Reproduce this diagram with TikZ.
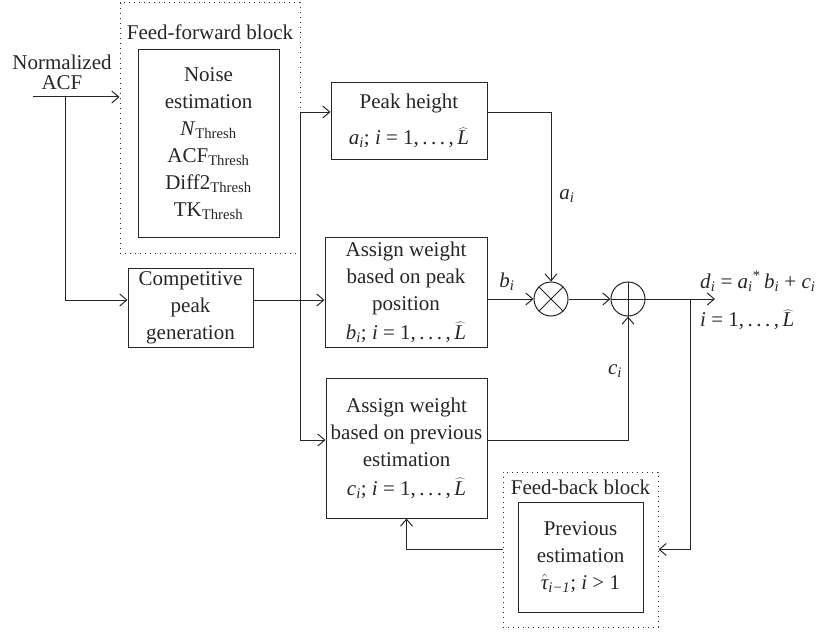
\documentclass[tikz,border=0pt]{standalone}
\usepackage{fontspec}
\setmainfont{Liberation Serif}
\usetikzlibrary{arrows.meta}
\newcommand\mv[1]{\textit{#1}}
\newcommand\sbi[1]{\textsubscript{\textit{#1}}}
\newcommand\Lhat{\raisebox{0pt}[0.72em][0pt]{$\widehat{\mbox{\itshape L}}$}}
\newcommand\dotsx{.\kern3.5pt.\kern3.5pt.}
\newcommand\range{\mv{i} = 1,\,\dotsx\,,\,\Lhat}
\begin{document}
\begin{tikzpicture}[x=1pt,y=-1pt,color=black!85,
  txt/.style={inner sep=0pt, font=\fontsize{21}{27}\selectfont},
  box/.style={draw, line width=1pt, align=center, inner sep=0pt, font=\fontsize{21}{27}\selectfont},
  dotbox/.style={draw, line width=1pt, dash pattern=on 1pt off 4pt, inner sep=0pt},
  conn/.style={line width=1pt},
  arr/.style={conn, -{Straight Barb[length=7pt,width=12pt]}},
  op/.style={circle, draw, line width=1pt, minimum size=34pt, inner sep=0pt}]
\useasboundingbox (0,0) rectangle (825,634);

% feed-forward block
\node[dotbox, minimum width=180pt, minimum height=250pt] (ff) at (210,128) {};
\node[txt] (fflab) at (210,32) {Feed-forward block};
\node[box, minimum width=141pt, minimum height=187pt] (noise) at (208.5,143.5)
  {Noise\\estimation\\\mv{N}\textsubscript{Thresh}\\ACF\textsubscript{Thresh}\\Diff2\textsubscript{Thresh}\\TK\textsubscript{Thresh}};

% input
\node[txt, align=center, font=\fontsize{21}{20}\selectfont] (inlab) at (62,72) {Normalized\\ACF};
\coordinate (in0) at (33,97);
\coordinate (j1) at (65,97);
\coordinate (c1) at (65,300);
\draw[arr] (in0) -- (in0 -| ff.west);

% competitive peak generation
\node[box, minimum width=125pt, minimum height=79pt] (comp) at (190.5,307.5) {Competitive\\peak\\generation};
\draw[arr] (j1) -- (c1) -- (c1 -| comp.west);

% right-hand boxes
\node[box, minimum width=156pt, minimum height=77pt] (ph) at (409,121)
  {Peak height\\[9pt]\mv{a}\sbi{i}; \range};
\node[box, minimum width=162pt, minimum height=110pt] (pp) at (406,292)
  {Assign weight\\based on peak\\position\\[2pt]\mv{b}\sbi{i}; \range};
\node[box, minimum width=161pt, minimum height=140pt] (prev) at (406.5,448)
  {Assign weight\\based on previous\\estimation\\[2pt]\mv{c}\sbi{i}; \range};

% bus
\coordinate (b1) at (300,112);
\coordinate (b2) at (300,300);
\coordinate (b3) at (300,440);
\draw[conn] (b1) -- (b3);
\draw[arr] (b1) -- (b1 -| ph.west);
\draw[arr] (b3) -- (b3 -| prev.west);
\draw[arr] (comp.east |- b2) -- (b2 -| pp.west);

% operators
\node[op] (mult) at (551,299) {};
\node[op] (plus) at (628,299) {};
\draw[conn] (mult.45) -- (mult.225) (mult.135) -- (mult.315);
\draw[conn] (plus.north) -- (plus.south) (plus.west) -- (plus.east);

\draw[arr] (ph.east |- b1) -- (b1 -| mult) -- (mult.north);
\node[txt] (alab) at (567,196) {\mv{a}\sbi{i}};
\draw[arr] (pp.east |- mult) -- (mult.west);
\node[txt] (blab) at (507,282) {\mv{b}\sbi{i}};
\draw[arr] (mult.east) -- (plus.west);
\draw[arr] (b3 -| prev.east) -- (b3 -| plus) -- (plus.south);
\node[txt] (clab) at (615,371) {\mv{c}\sbi{i}};

% output
\coordinate (out) at (715,299);
\coordinate (j2) at (690,299);
\draw[arr] (plus.east) -- (out);
\node[txt, anchor=west] (dlab) at (700,281)
  {\mv{d}\sbi{i} = \mv{a}\sbi{i}\textsuperscript{*}\,\mv{b}\sbi{i} + \mv{c}\sbi{i}};
\node[txt, anchor=west] (ilab) at (700,321) {\range};

% feed-back block
\node[dotbox, minimum width=155pt, minimum height=155pt] (fb) at (580.5,549.5) {};
\node[txt] (fblab) at (580.5,487) {Feed-back block};
\node[box, minimum width=125pt, minimum height=110pt] (pe) at (580.5,557)
  {Previous\\estimation\\$\hat{\mbox{\itshape τ}}$\sbi{i−1}; \mv{i} > 1};
\draw[arr] (j2) -- (j2 |- fb.east) -- (fb.east);
\draw[arr] (fb.west) -- (fb.west -| prev.south) -- (prev.south);
\end{tikzpicture}
\end{document}
